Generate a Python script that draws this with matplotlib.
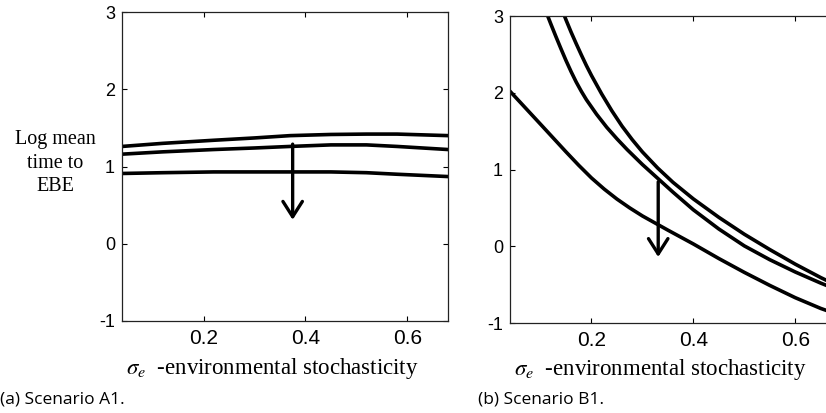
import numpy as np
import matplotlib.pyplot as plt

plt.rcParams['mathtext.fontset'] = 'stix'
plt.rcParams['axes.unicode_minus'] = False

# scenario A1 (left panel)
sigma_a = [0.04, 0.12, 0.22, 0.30, 0.37, 0.45, 0.52, 0.58, 0.68]
a1_top = [1.26, 1.30, 1.34, 1.37, 1.40, 1.415, 1.42, 1.42, 1.40]
a1_mid = [1.16, 1.19, 1.22, 1.24, 1.26, 1.28, 1.28, 1.26, 1.22]
a1_low = [0.91, 0.92, 0.93, 0.93, 0.93, 0.93, 0.92, 0.90, 0.87]
arrow_a = (0.375, 1.29, 0.31)   # x, y start, y end

# scenario B1 (right panel)
sigma_b_top = [0.14, 0.15, 0.16, 0.17, 0.18, 0.19, 0.20, 0.22, 0.24, 0.26,
               0.28, 0.30, 0.33, 0.36, 0.40, 0.45, 0.50, 0.55, 0.60, 0.65, 0.68]
b1_top = [3.12, 2.95, 2.79, 2.64, 2.495, 2.355, 2.225, 1.985, 1.765, 1.565,
          1.389, 1.229, 1.019, 0.833, 0.617, 0.377, 0.157, -0.043, -0.233,
          -0.408, -0.504]
sigma_b_mid = [0.11, 0.12, 0.13, 0.14, 0.15, 0.16, 0.17, 0.18, 0.19, 0.21,
               0.23, 0.25, 0.27, 0.30, 0.33, 0.36, 0.40, 0.45, 0.50, 0.55,
               0.60, 0.65, 0.68]
b1_mid = [3.07, 2.90, 2.735, 2.575, 2.42, 2.275, 2.14, 2.02, 1.91, 1.72,
          1.55, 1.40, 1.26, 1.065, 0.885, 0.705, 0.475, 0.225, 0.005, -0.175,
          -0.335, -0.48, -0.56]
sigma_b_low = [0.04, 0.10, 0.15, 0.175, 0.20, 0.225, 0.25, 0.275, 0.30, 0.35,
               0.40, 0.45, 0.50, 0.55, 0.60, 0.65, 0.68]
b1_low = [2.02, 1.59, 1.23, 1.055, 0.89, 0.745, 0.615, 0.50, 0.395, 0.21,
          0.03, -0.16, -0.34, -0.51, -0.67, -0.81, -0.88]
arrow_b = (0.331, 0.84, -0.14)

xticks = [0.2, 0.4, 0.6]
xticklabels = ['0.2', '0.4', '0.6']
yticks = [-1, 0, 1, 2, 3]
yticklabels = ['-1', '0', '1', '2', '3']

serif = 'Liberation Serif'
sans = 'Liberation Sans'


def style_axes(ax):
    ax.set_xlim(0.04, 0.68)
    ax.set_ylim(-1, 3)
    ax.set_xticks(xticks)
    ax.set_xticklabels(xticklabels, family=sans, fontsize=15)
    ax.set_yticks(yticks)
    ax.set_yticklabels(yticklabels, family=sans, fontsize=13)
    ax.tick_params(direction='in', top=True, right=True, length=3.5, width=0.8)
    ax.tick_params(axis='x', pad=6)
    ax.tick_params(axis='y', pad=5)
    for s in ax.spines.values():
        s.set_linewidth(0.9)
        s.set_color('#222222')
    ax.set_xlabel(r'$\sigma_e$  -environmental stochasticity', family=serif, fontsize=16.5)
    ax.xaxis.set_label_coords(0.46, -0.112)


def draw_arrow(ax, arr):
    x, y0, y1 = arr
    ax.annotate('', xy=(x, y1), xytext=(x, y0),
                arrowprops=dict(arrowstyle='->,head_length=0.55,head_width=0.35',
                                lw=2.4, color='black', mutation_scale=20,
                                shrinkA=0, shrinkB=0))


fig = plt.figure(figsize=(8.26, 4.13), dpi=100)
ax1 = fig.add_axes([0.1477, 0.2228, 0.3947, 0.748])
ax2 = fig.add_axes([0.6174, 0.2179, 0.3947, 0.7433])

lw = 2.6
for ys in (a1_top, a1_mid, a1_low):
    ax1.plot(sigma_a, ys, color='black', lw=lw, solid_joinstyle='round')
ax2.plot(sigma_b_top, b1_top, color='black', lw=lw, solid_joinstyle='round')
ax2.plot(sigma_b_mid, b1_mid, color='black', lw=lw, solid_joinstyle='round')
ax2.plot(sigma_b_low, b1_low, color='black', lw=lw, solid_joinstyle='round')

draw_arrow(ax1, arrow_a)
draw_arrow(ax2, arrow_b)

style_axes(ax1)
style_axes(ax2)

fig.text(55 / 826, 1 - 163 / 413, 'Log mean\ntime to\nEBE', family=serif,
         fontsize=14.5, ha='center', va='center', linespacing=1.3)

fig.text(0.0, 1 - 399 / 413, '(a) Scenario A1.', family='Open Sans', fontsize=12.5,
         ha='left', va='center')
fig.text(478 / 826, 1 - 399 / 413, '(b) Scenario B1.', family='Open Sans', fontsize=12.5,
         ha='left', va='center')

fig.savefig('out.png', dpi=100)
